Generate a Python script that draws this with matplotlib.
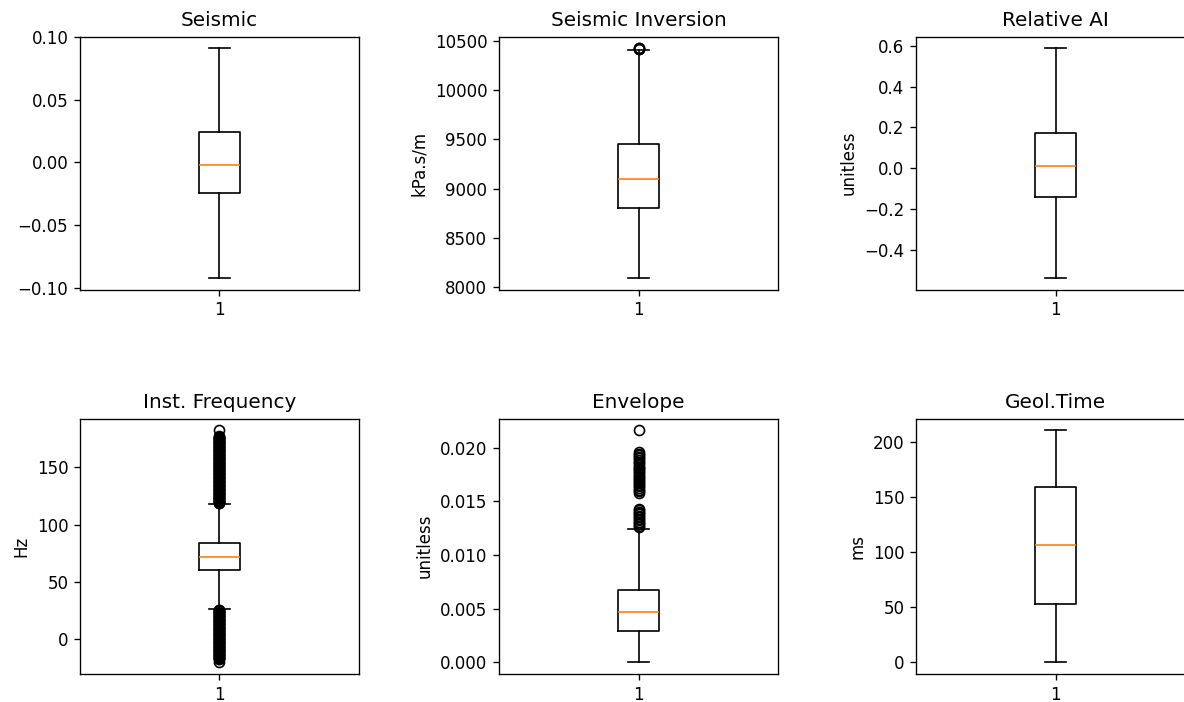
## Box plots of the seismic attribute distributions

import matplotlib
matplotlib.use("Agg")
from matplotlib import pyplot as plt

titles = ["Seismic", "Seismic Inversion", "Relative AI",
          "Inst. Frequency", "Envelope", "Geol.Time"]
units = ["", "kPa.s/m", "unitless", "Hz", "unitless", "ms"]

# five-number summaries per attribute: whislo, q1, median, q3, whishi
seismic = [-0.0920, -0.0240, -0.0020, 0.0240, 0.0910]
inversion = [8095, 8805, 9097, 9450, 10405]
relative_ai = [-0.540, -0.143, 0.011, 0.172, 0.590]
inst_freq = [26.0, 60.3, 72.1, 84.0, 118.3]
envelope = [0.0, 0.00291, 0.00471, 0.0067, 0.01246]
geol_time = [0.0, 52.5, 106.6, 158.8, 210.5]

# outliers beyond the whiskers
seismic_out = []
inversion_out = [10412, 10418, 10422, 10425]
relative_ai_out = []
inst_freq_hi = [182.5, 177.2, 176.8, 176.3, 175.9, 175.4, 175.0, 174.5, 174.0, 173.5,
                173.0, 172.5, 172.0, 171.5, 171.0, 170.5, 170.0, 169.5, 169.0, 168.5,
                168.0, 167.5, 167.0, 166.5, 166.0, 165.5, 165.0, 164.5, 164.0, 163.5,
                163.0, 162.5, 162.0, 161.5, 161.0, 160.5, 160.0, 159.5, 159.0, 158.5,
                158.0, 157.5, 157.0, 156.5, 156.0, 155.5, 155.0, 154.5, 154.0, 153.5,
                153.0, 152.5, 152.0, 151.5, 151.0, 150.5, 150.0, 149.5, 149.0, 148.5,
                148.0, 147.5, 147.0, 146.5, 146.0, 145.5, 145.0, 144.5, 144.0, 143.5,
                143.0, 142.5, 142.0, 141.5, 141.0, 140.5, 140.0, 139.5, 139.0, 138.5,
                138.0, 137.5, 137.0, 136.5, 136.0, 135.5, 135.0, 134.5, 134.0, 133.5,
                133.0, 132.5, 132.0, 131.5, 131.0, 130.5, 130.0, 129.5, 129.0, 128.5,
                128.0, 127.5, 127.0, 126.5, 126.0, 125.5, 125.0, 124.5, 124.0, 123.5,
                123.0, 122.5, 122.0, 121.5, 121.0, 120.5, 120.0, 119.5, 119.0, 118.6]
inst_freq_lo = [25.8, 25.4, 25.0, 24.5, 24.0, 23.5, 23.0, 22.5, 22.0, 21.5,
                21.0, 20.5, 20.0, 19.5, 19.0, 18.5, 18.0, 17.5, 17.0, 16.5,
                16.0, 15.5, 15.0, 14.5, 14.0, 13.5, 13.0, 12.5, 12.0, 11.5,
                11.0, 10.5, 10.0, 9.5, 9.0, 8.5, 8.0, 7.5, 7.0, 6.5,
                6.0, 5.5, 5.0, 4.5, 4.0, 3.5, 3.0, 2.5, 2.0, 1.5,
                1.0, 0.5, 0.0, -0.5, -1.0, -1.5, -2.0, -2.5, -3.0, -3.5,
                -4.0, -4.5, -5.0, -5.5, -6.0, -6.5, -7.0, -7.5, -8.0, -8.5,
                -9.0, -9.5, -10.0, -10.5, -11.0, -11.5, -12.0, -12.5, -13.0, -13.5,
                -14.0, -14.5, -15.0, -15.5, -16.0, -16.5, -17.0, -17.4, -20.2]
envelope_out = [0.02164,
                0.0196, 0.01945, 0.0193, 0.01915, 0.0190, 0.01885, 0.0187,
                0.01855, 0.0184, 0.01825, 0.0181, 0.0180, 0.01785, 0.0177,
                0.01755, 0.0174, 0.01725, 0.0171, 0.0170, 0.01685, 0.0167,
                0.01655, 0.0164, 0.01625, 0.0161, 0.01595, 0.0158,
                0.0143, 0.01418, 0.01405, 0.0139, 0.01378, 0.01365, 0.0135,
                0.01338, 0.01325, 0.0131, 0.01298, 0.01285, 0.0127, 0.0126]
geol_time_out = []

summaries = [seismic, inversion, relative_ai, inst_freq, envelope, geol_time]
outliers = [seismic_out, inversion_out, relative_ai_out,
            inst_freq_hi + inst_freq_lo, envelope_out, geol_time_out]

fig = plt.figure(figsize=(1184 / 120, 702 / 120), dpi=120)

lefts = [80 / 1184, 499 / 1184, 916 / 1184]
bottoms = [1 - 289.5 / 702, 1 - 674 / 702]
heights = [253 / 702, 255.5 / 702]
width = 279 / 1184

for i in range(6):
    row, col = divmod(i, 3)
    ax = fig.add_axes([lefts[col], bottoms[row], width, heights[row]])
    lo, q1, med, q3, hi = summaries[i]
    stats = [{"label": "1", "whislo": lo, "q1": q1, "med": med,
              "q3": q3, "whishi": hi, "fliers": outliers[i]}]
    ax.bxp(stats, positions=[1])
    ax.set_title(titles[i])
    if units[i]:
        ax.set_ylabel(units[i])

fig.savefig("out.png", dpi=120)
